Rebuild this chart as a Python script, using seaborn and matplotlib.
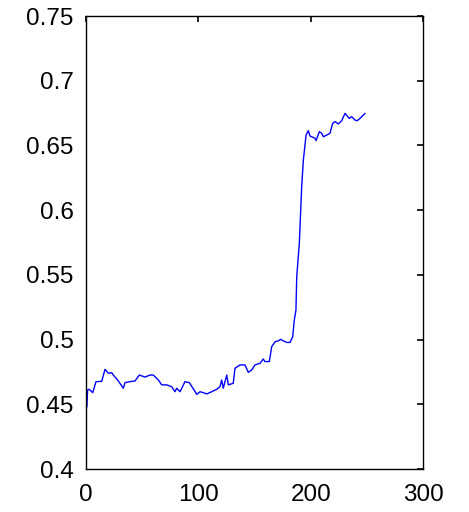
import matplotlib
matplotlib.use("Agg")
import matplotlib.pyplot as plt
import seaborn as sns
import pandas as pd

sns.set_style("white")
plt.rcParams['font.family'] = ['Liberation Sans', 'DejaVu Sans']

x_vals = [0.8, 1.4, 2.9, 6.0, 8.9, 14.0, 16.9, 19.9, 22.9, 24.3, 28.8, 33.2, 34.7, 39.2,
          43.6, 47.5, 52.5, 57.0, 59.9, 64.4, 67.4, 71.8, 76.3, 79.2, 80.7, 83.7, 88.1,
          92.0, 95.5, 98.6, 101.5, 104.4, 107.5, 111.9, 116.4, 119.3, 120.8, 122.2,
          125.3, 126.7, 131.1, 132.6, 137.1, 141.5, 144.5, 147.5, 150.4, 154.9, 157.8,
          159.3, 163.2, 165.3, 168.3, 171.2, 173.3, 175.6, 178.7, 181.6, 184.0, 185.4,
          186.9, 187.6, 189.9, 192.0, 193.5, 195.9, 197.9, 199.4, 203.9, 204.8, 207.7,
          209.8, 211.3, 214.3, 217.2, 219.6, 221.7, 224.6, 227.6, 230.6, 232.6, 234.4,
          236.5, 239.5, 241.5, 243.9, 246.9, 248.4]
y_vals = [0.448, 0.461, 0.4616, 0.459, 0.4675, 0.4677, 0.477, 0.474, 0.4744, 0.4726,
          0.468, 0.4624, 0.4667, 0.4675, 0.468, 0.4726, 0.471, 0.4726, 0.4726, 0.4688,
          0.465, 0.465, 0.4636, 0.4597, 0.4624, 0.4597, 0.4675, 0.4667, 0.462, 0.4577,
          0.4597, 0.459, 0.458, 0.4597, 0.4616, 0.4636, 0.4688, 0.4624, 0.4726, 0.465,
          0.4662, 0.4778, 0.4804, 0.4804, 0.4747, 0.4765, 0.4804, 0.4817, 0.485, 0.483,
          0.483, 0.4945, 0.4983, 0.499, 0.5002, 0.499, 0.4978, 0.4978, 0.5022, 0.515,
          0.5228, 0.5486, 0.5744, 0.6181, 0.6387, 0.658, 0.6614, 0.6573, 0.6555, 0.6537,
          0.6606, 0.6594, 0.6567, 0.658, 0.6594, 0.6671, 0.6684, 0.6666, 0.6691, 0.6748,
          0.6727, 0.6709, 0.6722, 0.6696, 0.6691, 0.6709, 0.6735, 0.6748]

x_ticks = [0, 100, 200, 300]
y_ticks = [0.4, 0.45, 0.5, 0.55, 0.6, 0.65, 0.7, 0.75]
y_tick_labels = ["0.4", "0.45", "0.5", "0.55", "0.6", "0.65", "0.7", "0.75"]

df = pd.DataFrame({"x": x_vals, "y": y_vals})

fig = plt.figure(figsize=(4.69, 5.12), dpi=100)
ax = fig.add_axes([86 / 469, 1 - 469 / 512, (423 - 86) / 469, (469 - 16) / 512])
sns.lineplot(data=df, x="x", y="y", ax=ax, color="blue", linewidth=1.0,
             estimator=None, sort=False)

ax.set_xlim(0, 300)
ax.set_ylim(0.4, 0.75)
ax.set_xticks(x_ticks)
ax.set_xticklabels([str(t) for t in x_ticks])
ax.set_yticks(y_ticks)
ax.set_yticklabels(y_tick_labels)
ax.set_xlabel("")
ax.set_ylabel("")
for s in ax.spines.values():
    s.set_visible(True)
    s.set_color("black")
    s.set_linewidth(1.0)
ax.tick_params(direction="in", length=4, width=1.2, top=True, right=True,
               labelsize=17.5, colors="black")
ax.tick_params(axis="y", pad=9)
ax.tick_params(axis="x", pad=11)

fig.savefig("out.png", dpi=100)
